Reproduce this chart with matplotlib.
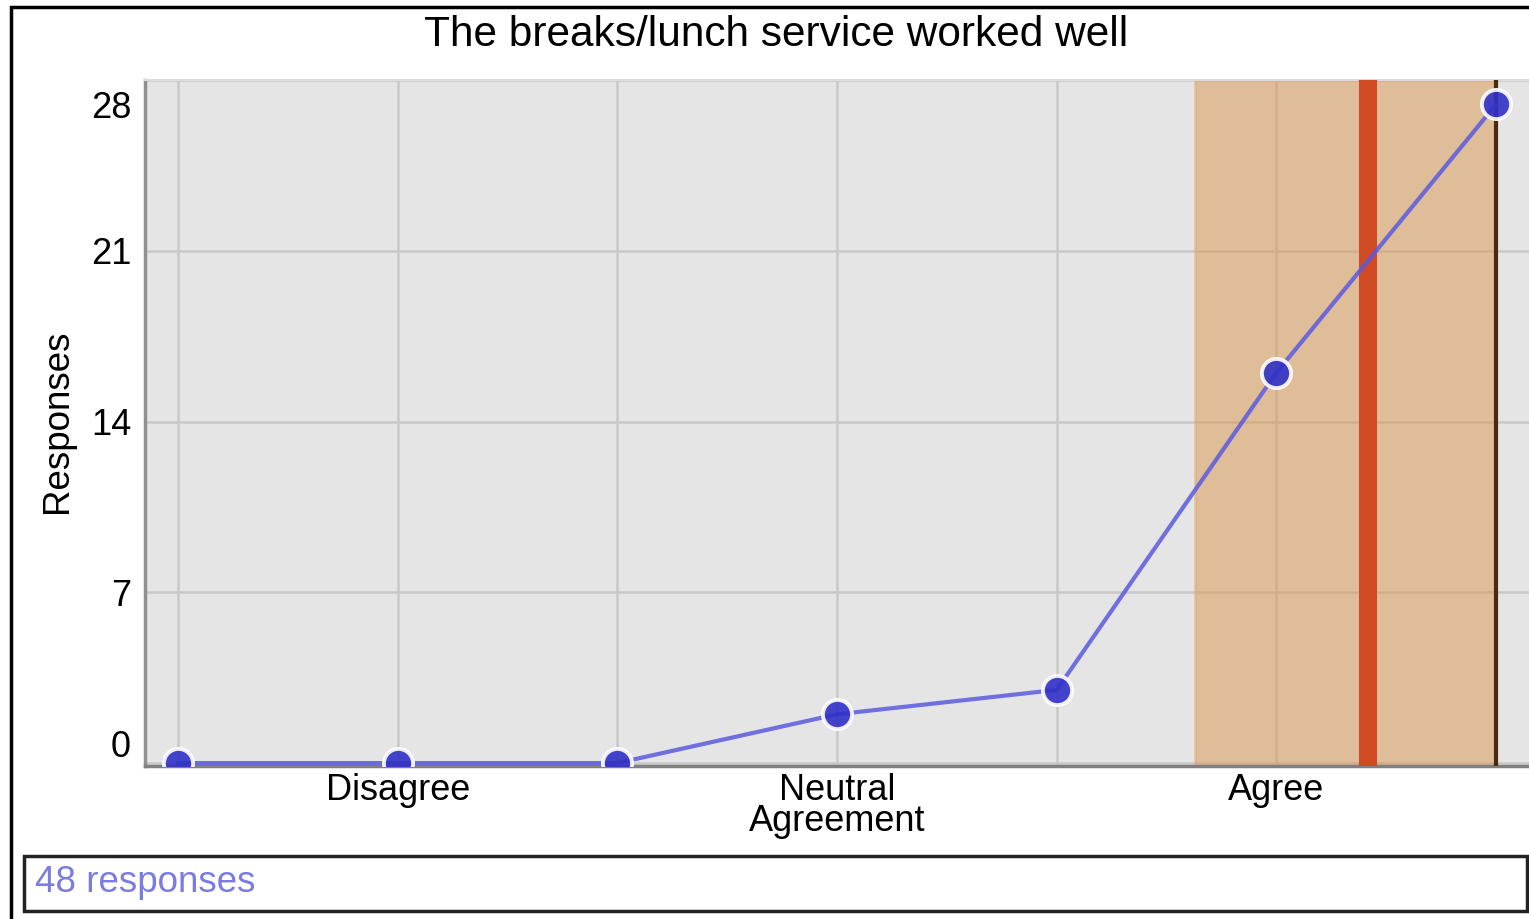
import numpy as np
import matplotlib
matplotlib.use("Agg")
import matplotlib.pyplot as plt
import matplotlib.transforms as mtransforms
from matplotlib.patches import Rectangle

# ── Dados ────────────────────────────────────────────────────────────────────
positions   = [1, 2, 3, 4, 5, 6, 7]
responses   = [0, 0, 0, 2, 3, 16, 27]
tick_pos    = [2, 4, 6]
tick_labels = ["Disagree", "Neutral\nAgreement", "Agree"]
y_ticks     = [0, 7, 14, 21, 28]
title       = "The breaks/lunch service worked well"
n_total     = sum(responses)

# estatísticas (média, desvio padrão, mediana)
pos = np.array(positions, dtype=float)
w   = np.array(responses, dtype=float)
mean = (pos * w).sum() / w.sum()
std  = np.sqrt(((pos - mean) ** 2 * w).sum() / w.sum())
cum  = np.cumsum(w)
median = pos[np.searchsorted(cum, w.sum() / 2)]
band_lo = mean - std
band_hi = min(mean + std, pos.max())

# ── Estilo ───────────────────────────────────────────────────────────────────
plt.rcParams.update({
    "font.family": ["Liberation Sans", "DejaVu Sans"],
    "font.size": 26,
})

fig = plt.figure(figsize=(15.29, 9.19), dpi=100)
W, H = 1529, 919
ax = fig.add_axes([145 / W, 1 - 766 / H, 1 - 145 / W, (766 - 80) / H])

ax.set_facecolor("#E5E5E5")
ax.set_xlim(0.85, 7.15)
ax.set_ylim(-0.12, 28)

# grade vertical em cada categoria
for x in positions:
    ax.axvline(x, color="#C8C8C8", linewidth=1.8, zorder=1)
ax.grid(True, which="major", axis="y", color="#C8C8C8", linewidth=1.8, zorder=1)
ax.set_axisbelow(True)

# faixa média ± desvio, média e mediana
ax.axvspan(band_lo, band_hi, facecolor="#DB974F", alpha=0.5, edgecolor="#E0A870",
           linewidth=2, zorder=2)
ax.axvline(mean, color="#D04A22", linewidth=13, zorder=3)
ax.axvline(median, color="#4A2A10", linewidth=3, zorder=3)

# série
ax.plot(positions, responses, "-", color="#5A5AE0", linewidth=3, alpha=0.85, zorder=4)
ax.plot(positions, responses, "o", markersize=21, markerfacecolor="#3030C8",
        markeredgecolor="white", markeredgewidth=2.8, alpha=0.9, zorder=5)

# eixos
ax.set_xticks(tick_pos)
ax.set_xticklabels(tick_labels, linespacing=0.85)
ax.set_yticks(y_ticks)
ax.set_yticklabels([str(v) for v in y_ticks])
ax.tick_params(axis="both", which="major", length=0)
ax.tick_params(axis="x", pad=5)
ax.tick_params(axis="y", pad=10)

# ajustar rótulos extremos para dentro
yticks = ax.yaxis.get_major_ticks()
lbl0 = yticks[0].label1
lbl0.set_transform(lbl0.get_transform() + mtransforms.ScaledTranslation(0, 20 / 100, fig.dpi_scale_trans))
lblN = yticks[-1].label1
lblN.set_transform(lblN.get_transform() + mtransforms.ScaledTranslation(0, -25 / 100, fig.dpi_scale_trans))

ax.spines["right"].set_visible(False)
ax.spines["top"].set_color("#DDDDDD")
ax.spines["top"].set_linewidth(1.5)
ax.spines["left"].set_color("#909090")
ax.spines["left"].set_linewidth(2.5)
ax.spines["bottom"].set_color("#808080")
ax.spines["bottom"].set_linewidth(2.5)

fig.text(58 / W, 1 - 421 / H, "Responses", rotation=90, ha="center", va="center",
         fontsize=26.5)
fig.text(776 / W, 1 - 35 / H, title, ha="center", va="center", fontsize=30.5)

# moldura externa
fig.patches.append(Rectangle((11 / W, -0.1), 1.2, 1 - 7 / H + 0.1, transform=fig.transFigure,
                             fill=False, edgecolor="black", linewidth=2.5))
# caixa de respostas
fig.patches.append(Rectangle((24 / W, 1 - 911 / H), (1527 - 24) / W, (911 - 856) / H,
                             transform=fig.transFigure, fill=False, edgecolor="#222222",
                             linewidth=2.5))
fig.text(35 / W, 1 - 882 / H, f"{n_total} responses", ha="left", va="center",
         color="#7B7BE0", fontsize=26.5)

fig.savefig("out.png", dpi=100)
